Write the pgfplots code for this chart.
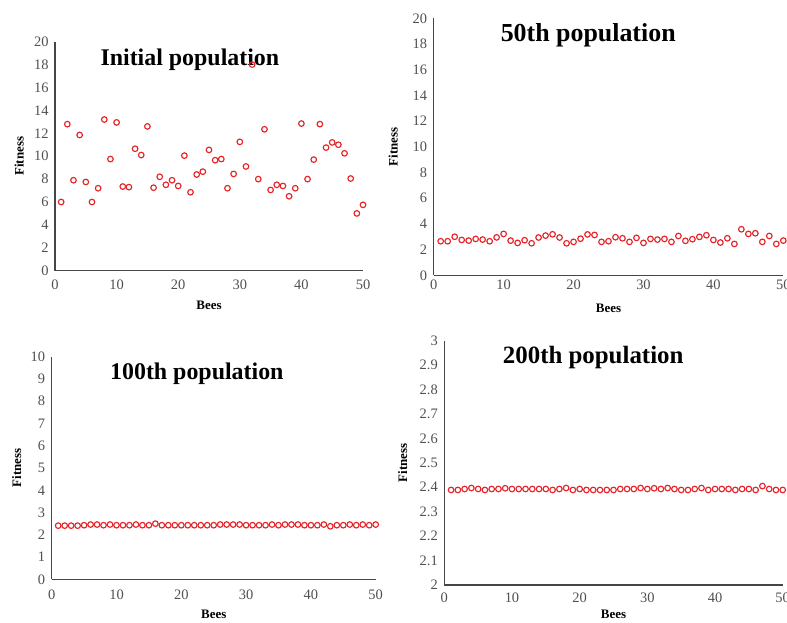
\documentclass[border=0pt]{standalone}
\usepackage{fontspec}
\setmainfont{Liberation Serif}
\usepackage{pgfplots}
\pgfplotsset{compat=1.18}
\definecolor{beered}{RGB}{230,35,40}
\definecolor{axisgray}{RGB}{70,70,70}
\definecolor{ticktext}{RGB}{80,80,80}

\pgfplotsset{
  beesplot/.style={
    scale only axis, anchor=south west, clip=false,
    axis lines=left, axis line style={axisgray, line width=1.3bp, -},
    xmin=0, xmax=50, xtick={0,10,...,50},
    major tick length=0pt, tick style={draw=none},
    tick label style={font=\fontsize{14.5}{16}\selectfont, text=ticktext},
    /pgf/number format/assume math mode=true,
    xlabel=Bees, ylabel=Fitness,
    label style={font=\bfseries\fontsize{13}{15}\selectfont},
    yticklabel style={xshift=-3bp},
  },
  beemarks/.style={only marks, mark=o, mark size=2.8bp,
    mark options={line width=1.15bp, draw=beered}},
}

\begin{document}
\begin{tikzpicture}[x=1bp,y=1bp]
\useasboundingbox (0,0) rectangle (787,623);

% Initial population
\begin{axis}[beesplot, at={(55bp,352.3bp)}, width=308bp, height=229bp,
  ymin=0, ymax=20, ytick={0,2,...,20},
  xticklabel style={yshift=-6bp},
  xlabel style={at={(axis description cs:0.5,0)}, anchor=center, yshift=-34.3bp},
  ylabel style={at={(axis description cs:0,0.5)}, anchor=center, yshift=35.7bp}]
\addplot[beemarks] coordinates {
(1,6.0) (2,12.8) (3,7.9) (4,11.85) (5,7.75) (6,6.0) (7,7.2) (8,13.2) (9,9.75) (10,12.95)
(11,7.35) (12,7.3) (13,10.65) (14,10.1) (15,12.6) (16,7.25) (17,8.2) (18,7.5) (19,7.9) (20,7.4)
(21,10.05) (22,6.85) (23,8.4) (24,8.65) (25,10.55) (26,9.65) (27,9.75) (28,7.2) (29,8.45) (30,11.25)
(31,9.1) (32,18.0) (33,8.0) (34,12.35) (35,7.05) (36,7.5) (37,7.4) (38,6.5) (39,7.2) (40,12.85)
(41,8.0) (42,9.7) (43,12.8) (44,10.75) (45,11.2) (46,11.0) (47,10.25) (48,8.05) (49,5.0) (50,5.75)};
\node[font=\bfseries\fontsize{24}{26}\selectfont] at (rel axis cs:0.438,0.92) {Initial population};
\end{axis}

% 50th population
\begin{axis}[beesplot, at={(433.7bp,347.7bp)}, width=349.6bp, height=257bp,
  ymin=0, ymax=20, ytick={0,2,...,20},
  xticklabel style={yshift=-1.5bp},
  xlabel style={at={(axis description cs:0.5,0)}, anchor=center, yshift=-33bp},
  ylabel style={at={(axis description cs:0,0.5)}, anchor=center, yshift=40.4bp}]
\addplot[beemarks] coordinates {
(1,2.65) (2,2.65) (3,3.0) (4,2.75) (5,2.7) (6,2.83) (7,2.78) (8,2.65) (9,2.95) (10,3.22)
(11,2.7) (12,2.52) (13,2.73) (14,2.49) (15,2.94) (16,3.09) (17,3.19) (18,2.94) (19,2.49) (20,2.6)
(21,2.85) (22,3.18) (23,3.14) (24,2.6) (25,2.65) (26,2.96) (27,2.88) (28,2.6) (29,2.91) (30,2.52)
(31,2.83) (32,2.78) (33,2.83) (34,2.6) (35,3.06) (36,2.68) (37,2.81) (38,2.99) (39,3.12) (40,2.75)
(41,2.55) (42,2.88) (43,2.44) (44,3.58) (45,3.22) (46,3.27) (47,2.6) (48,3.06) (49,2.44) (50,2.7)};
\node[font=\bfseries\fontsize{26}{28}\selectfont] at (rel axis cs:0.442,0.935) {50th population};
\end{axis}

% 100th population
\begin{axis}[beesplot, at={(51.7bp,43.7bp)}, width=324bp, height=222.6bp,
  ymin=0, ymax=10, ytick={0,1,...,10},
  xticklabel style={yshift=-7bp},
  xlabel style={at={(axis description cs:0.5,0)}, anchor=center, yshift=-34.7bp},
  ylabel style={at={(axis description cs:0,0.5)}, anchor=center, yshift=35bp}]
\addplot[beemarks] coordinates {
(1,2.41) (2,2.41) (3,2.41) (4,2.41) (5,2.43) (6,2.46) (7,2.46) (8,2.43) (9,2.46) (10,2.43)
(11,2.43) (12,2.43) (13,2.46) (14,2.43) (15,2.43) (16,2.50) (17,2.43) (18,2.43) (19,2.43) (20,2.43)
(21,2.43) (22,2.43) (23,2.43) (24,2.43) (25,2.43) (26,2.46) (27,2.46) (28,2.46) (29,2.46) (30,2.43)
(31,2.43) (32,2.43) (33,2.43) (34,2.46) (35,2.43) (36,2.46) (37,2.46) (38,2.46) (39,2.43) (40,2.43)
(41,2.43) (42,2.46) (43,2.38) (44,2.43) (45,2.43) (46,2.46) (47,2.43) (48,2.46) (49,2.43) (50,2.46)};
\node[font=\bfseries\fontsize{24}{26}\selectfont] at (rel axis cs:0.448,0.925) {100th population};
\end{axis}

% 200th population
\begin{axis}[beesplot, at={(444.3bp,38bp)}, width=338.4bp, height=244.3bp,
  ymin=2, ymax=3, ytick={2,2.1,2.2,2.3,2.4,2.5,2.6,2.7,2.8,2.9,3},
  xticklabel style={yshift=-4bp},
  xlabel style={at={(axis description cs:0.5,0)}, anchor=center, yshift=-29.3bp},
  ylabel style={at={(axis description cs:0,0.5)}, anchor=center, yshift=41.6bp}]
\addplot[beemarks] coordinates {
(1,2.389) (2,2.389) (3,2.393) (4,2.397) (5,2.393) (6,2.389) (7,2.393) (8,2.393) (9,2.396) (10,2.393)
(11,2.393) (12,2.393) (13,2.393) (14,2.393) (15,2.393) (16,2.389) (17,2.393) (18,2.397) (19,2.389) (20,2.393)
(21,2.389) (22,2.389) (23,2.389) (24,2.389) (25,2.389) (26,2.393) (27,2.393) (28,2.393) (29,2.397) (30,2.393)
(31,2.396) (32,2.393) (33,2.397) (34,2.393) (35,2.389) (36,2.389) (37,2.393) (38,2.397) (39,2.389) (40,2.393)
(41,2.393) (42,2.393) (43,2.389) (44,2.393) (45,2.393) (46,2.389) (47,2.405) (48,2.393) (49,2.389) (50,2.389)};
\node[font=\bfseries\fontsize{25}{27}\selectfont] at (rel axis cs:0.44,0.932) {200th population};
\end{axis}
\end{tikzpicture}
\end{document}
